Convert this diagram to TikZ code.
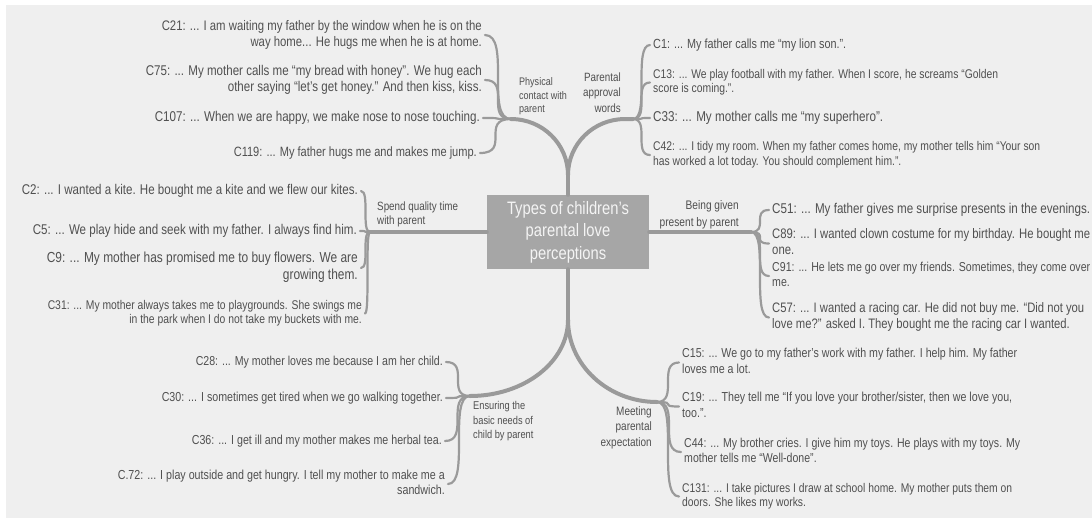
\documentclass[tikz,border=0pt]{standalone}
\usepackage{fontspec}
\setmainfont[FakeStretch=0.82]{Liberation Sans}
\usepackage{graphicx}
\usetikzlibrary{calc}
\definecolor{bgc}{HTML}{EFEFEF}
\definecolor{txt}{HTML}{505050}
\definecolor{linec}{HTML}{9A9A9A}
\definecolor{rootc}{HTML}{A6A6A6}
\definecolor{roottxt}{HTML}{F4F4F4}
\newcommand\txtR[2]{\resizebox{#1pt}{!}{\begin{tabular}{@{}r@{}}#2\end{tabular}}}
\newcommand\txtL[2]{\resizebox{#1pt}{!}{\begin{tabular}{@{}l@{}}#2\end{tabular}}}
\newcommand\mmlinkL[2]{\coordinate (tmpE) at ([xshift=3pt]#1.east);
  \draw[sub] (tmpE) .. controls (#2 |- tmpE) and (tmpE |- #2) .. (#2);}
\newcommand\mmlinkR[2]{\coordinate (tmpE) at ([xshift=-3pt]#1.west);
  \draw[sub] (tmpE) .. controls (#2 |- tmpE) and (tmpE |- #2) .. (#2);}
\begin{document}
\begin{tikzpicture}[x=1pt,y=-1pt,
  leaf/.style={inner sep=0pt, text=txt, font=\fontsize{14}{16.5}\selectfont},
  topic/.style={inner sep=0pt, text=txt, align=left},
  main/.style={draw=linec, line width=4pt, line cap=round},
  sub/.style={draw=linec, line width=2.2pt, line cap=round}]
\useasboundingbox (0,0) rectangle (1092,523);
\fill[white] (0,0) rectangle (1092,523);
\fill[bgc] (6,5) rectangle (1092,518);

% root
\node[fill=rootc, minimum width=162pt, minimum height=74pt, inner sep=0pt,
  text=roottxt, align=center, font=\fontsize{18}{22.5}\selectfont]
  (root) at (568,232) {Types of children’s\\parental love\\perceptions};

% junctions
\coordinate (tsplit) at (568,175);
\coordinate (bsplit) at (568,320);
\coordinate (jTL) at (511,119);
\coordinate (jTRc) at (625,119);
\coordinate (jTR) at (633,119);
\coordinate (jL) at (370,232);
\coordinate (jR) at (751,232);
\coordinate (jBL) at (470,396);
\coordinate (jBR) at (657,402);

% main branches
\draw[main] (root.north) -- (tsplit);
\draw[main] (tsplit) .. controls (568,144) and (542.5,119) .. (jTL);
\draw[main] (tsplit) .. controls (568,144) and (593.5,119) .. (jTRc) -- (jTR);
\draw[main] (root.west) -- (jL);
\draw[main] (root.east) -- (jR);
\draw[main] (root.south) -- (bsplit);
\draw[main] (bsplit) .. controls (568,362) and (524,396) .. (jBL);
\draw[main] (bsplit) .. controls (568,365) and (608,402) .. (jBR);

% topic labels
\node[topic, anchor=west, font=\fontsize{11}{13.5}\selectfont] (tPhys) at (519,96.5) {Physical\\contact with\\parent};
\node[topic, align=right, anchor=east, font=\fontsize{12}{15.5}\selectfont] (tPar) at (621,92.5) {Parental\\approval\\words};
\node[topic, anchor=west, font=\fontsize{12}{14}\selectfont] (tSpend) at (377,214) {Spend quality time\\with parent};
\node[topic, align=right, anchor=east, font=\fontsize{12.4}{17}\selectfont] (tGift) at (739,214.5) {Being given\\present by parent};
\node[topic, anchor=west, font=\fontsize{11.3}{14.5}\selectfont] (tBasic) at (473,421.5) {Ensuring the\\basic needs of\\child by parent};
\node[topic, align=right, anchor=east, font=\fontsize{12.2}{15.5}\selectfont] (tMeet) at (652,427.5) {Meeting\\parental\\expectation};

% top-left group
\node[leaf, anchor=east] (c21) at (482,35) {\txtR{320}{C21: ... I am waiting my father by the window when he is on the\\way home... He hugs me when he is at home.}};
\node[leaf, anchor=east] (c75) at (482,80) {\txtR{336}{C75: ... My mother calls me “my bread with honey”. We hug each\\other saying “let’s get honey.” And then kiss, kiss.}};
\node[leaf, anchor=east] (c107) at (480,118) {\txtR{325}{C107: ... When we are happy, we make nose to nose touching.}};
\node[leaf, anchor=east] (c119) at (477,153) {\txtR{243}{C119: ... My father hugs me and makes me jump.}};

% top-right group
\node[leaf, anchor=west] (c1) at (653,45) {\txtL{193}{C1: ... My father calls me “my lion son.”.}};
\node[leaf, anchor=west] (c13) at (653,82.5) {\txtL{345}{C13: ... We play football with my father. When I score, he screams “Golden\\score is coming.”.}};
\node[leaf, anchor=west] (c33) at (653,118) {\txtL{230}{C33: ... My mother calls me “my superhero”.}};
\node[leaf, anchor=west] (c42) at (653,155) {\txtL{387}{C42: ... I tidy my room. When my father comes home, my mother tells him “Your son\\has worked a lot today. You should complement him.”.}};

% left group
\node[leaf, anchor=east] (c2) at (358,191) {\txtR{336}{C2: ... I wanted a kite. He bought me a kite and we flew our kites.}};
\node[leaf, anchor=east] (c5) at (357,231) {\txtR{324}{C5: ... We play hide and seek with my father. I always find him.}};
\node[leaf, anchor=east] (c9) at (358,268) {\txtR{311}{C9: ... My mother has promised me to buy flowers. We are\\growing them.}};
\node[leaf, anchor=east] (c31) at (362,313.5) {\txtR{314}{C31: ... My mother always takes me to playgrounds. She swings me\\in the park when I do not take my buckets with me.}};

% right group
\node[leaf, anchor=west] (c51) at (772,210) {\txtL{318}{C51: ... My father gives me surprise presents in the evenings.}};
\node[leaf, anchor=west] (c89) at (772,243.5) {\txtL{318}{C89: ... I wanted clown costume for my birthday. He bought me\\one.}};
\node[leaf, anchor=west] (c91) at (772,276) {\txtL{318}{C91: ... He lets me go over my friends. Sometimes, they come over\\me.}};
\node[leaf, anchor=west] (c57) at (772,317.5) {\txtL{312}{C57: ... I wanted a racing car. He did not buy me. “Did not you\\love me?” asked I. They bought me the racing car I wanted.}};

% bottom-left group
\node[leaf, anchor=east] (c28) at (443,362) {\txtR{247}{C28: ... My mother loves me because I am her child.}};
\node[leaf, anchor=east] (c30) at (443,398) {\txtR{281}{C30: ... I sometimes get tired when we go walking together.}};
\node[leaf, anchor=east] (c36) at (442,441) {\txtR{250}{C36: ... I get ill and my mother makes me herbal tea.}};
\node[leaf, anchor=east] (c72) at (445,484) {\txtR{327}{C.72: ... I play outside and get hungry. I tell my mother to make me a\\sandwich.}};

% bottom-right group
\node[leaf, anchor=west] (c15) at (682,362.5) {\txtL{335}{C15: ... We go to my father’s work with my father. I help him. My father\\loves me a lot.}};
\node[leaf, anchor=west] (c19) at (682,406.5) {\txtL{330}{C19: ... They tell me “If you love your brother/sister, then we love you,\\too.”.}};
\node[leaf, anchor=west] (c44) at (684,452) {\txtL{336}{C44: ... My brother cries. I give him my toys. He plays with my toys. My\\mother tells me “Well-done”.}};
\node[leaf, anchor=west] (c131) at (682,496.5) {\txtL{330}{C131: ... I take pictures I draw at school home. My mother puts them on\\doors. She likes my works.}};

% sub connectors
\foreach \n in {c21,c75,c107,c119} {\mmlinkL{\n}{jTL}}
\foreach \n in {c1,c13,c33,c42} {\mmlinkR{\n}{jTR}}
\foreach \n in {c2,c5,c9,c31} {\mmlinkL{\n}{jL}}
\foreach \n in {c51,c89,c91,c57} {\mmlinkR{\n}{jR}}
\foreach \n in {c28,c30,c36,c72} {\mmlinkL{\n}{jBL}}
\foreach \n in {c15,c19,c44,c131} {\mmlinkR{\n}{jBR}}
\end{tikzpicture}
\end{document}
